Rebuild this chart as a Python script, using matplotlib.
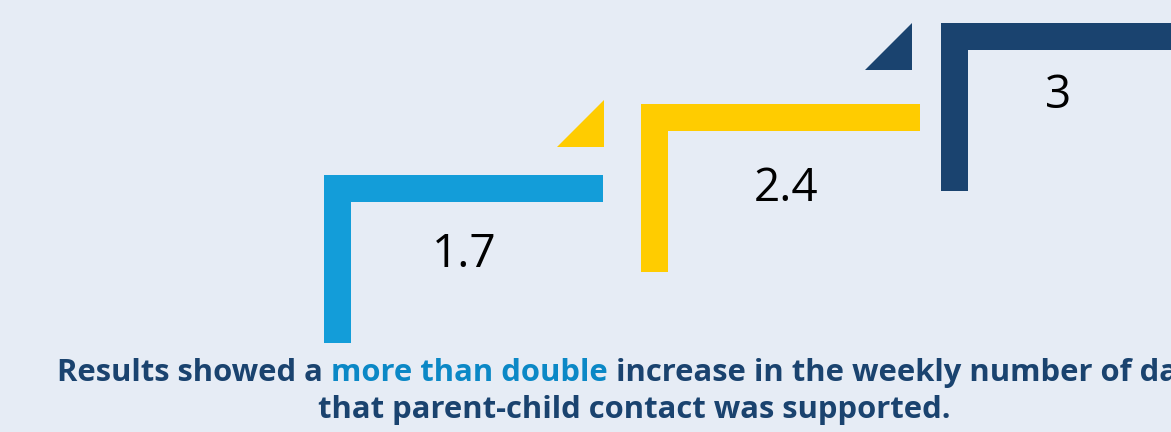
import matplotlib
matplotlib.use("Agg")
import matplotlib.pyplot as plt
from matplotlib.patches import Rectangle, Polygon

# values shown on the steps
values = [1.7, 2.4, 3]
labels = ["1.7", "2.4", "3"]
step_colors = ["#139DD9", "#FFCC00", "#1A436F"]

caption_parts = ["Results showed a ", "more than double", " increase in the weekly number of days"]
caption_line2 = "that parent-child contact was supported."

bg = "#E6ECF5"
navy = "#1A436F"
light = "#0B88C6"

fig = plt.figure(figsize=(11.71, 4.32), dpi=100)
fig.patch.set_facecolor(bg)
ax = fig.add_axes([0, 0, 1, 1])
ax.set_xlim(0, 1171)
ax.set_ylim(432, 0)
ax.axis("off")
ax.set_facecolor(bg)

# layout of each "step" (left edge, top edge) in pixels
step_left = [324, 641, 941]
step_top = [175, 104, 23]
bar_w = 279      # length of horizontal arm
arm = 27         # thickness
leg = 168        # length of vertical arm
label_off = [(140, 80), (145, 85), (117, 73)]
tri_right = [None, 604, 912]
tri = 47

for i, v in enumerate(values):
    x0, y0 = step_left[i], step_top[i]
    c = step_colors[i]
    ax.add_patch(Rectangle((x0, y0), arm, leg, color=c, lw=0))
    ax.add_patch(Rectangle((x0, y0), bar_w + 400 * (i == 2), arm, color=c, lw=0))
    if tri_right[i] is not None:
        r = tri_right[i]
        ty = y0 - 4 if i == 1 else y0
        ax.add_patch(Polygon([(r - tri, ty + tri), (r, ty + tri), (r, ty)], closed=True, color=c, lw=0))
    ax.text(x0 + label_off[i][0], y0 + label_off[i][1], labels[i], fontsize=33,
            family="Open Sans", ha="center", va="center", color="black")

# caption, two colours on the first line
fs = 22.3
t = ax.text(57, 373, caption_parts[0], fontsize=fs, family="Open Sans", weight="bold",
            color=navy, ha="left", va="center")
t2 = ax.annotate(caption_parts[1], xy=(1, 0), xycoords=t, fontsize=fs, family="Open Sans",
                 weight="bold", color=light, ha="left", va="bottom")
ax.annotate(caption_parts[2], xy=(1, 0), xycoords=t2, fontsize=fs, family="Open Sans",
            weight="bold", color=navy, ha="left", va="bottom")
ax.text(634, 410, caption_line2, fontsize=fs, family="Open Sans", weight="bold",
        color=navy, ha="center", va="center")

fig.savefig("out.png", dpi=100, facecolor=bg)
